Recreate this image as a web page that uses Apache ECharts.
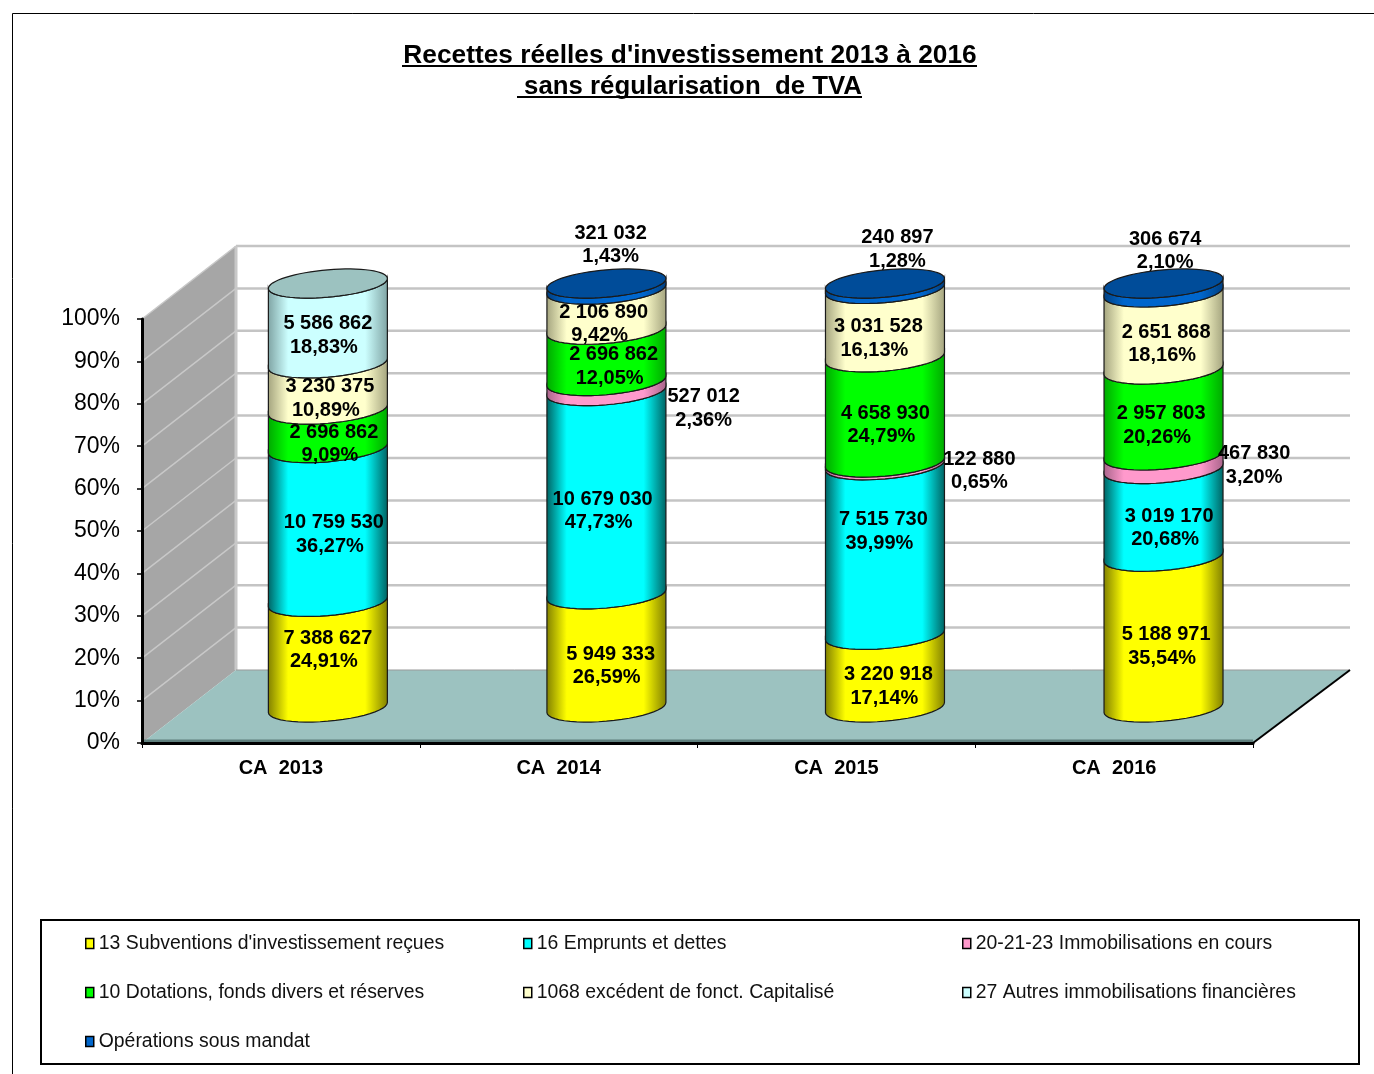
<!DOCTYPE html>
<html>
<head>
<meta charset="utf-8">
<title>Recettes réelles d'investissement</title>
<style>
  html, body { margin: 0; padding: 0; background: #fff; }
  #chart { width: 1374px; height: 1074px; }
</style>
<script src="https://cdn.jsdelivr.net/npm/echarts@6/dist/echarts.min.js"></script>
</head>
<body>
<div id="chart"></div>
<script>
const categories = ["CA  2013", "CA  2014", "CA  2015", "CA  2016"];
const yTicks = [0, 10, 20, 30, 40, 50, 60, 70, 80, 90, 100];

const seriesNames = [
  "13 Subventions d'investissement reçues",
  "16 Emprunts et dettes",
  "20-21-23 Immobilisations en cours",
  "10 Dotations, fonds divers et réserves",
  "1068 excédent de fonct. Capitalisé",
  "27 Autres immobilisations financières",
  "Opérations sous mandat"
];

const subventions = [7388627, 5949333, 3220918, 5188971];
const emprunts = [10759530, 10679030, 7515730, 3019170];
const immobilisations = [0, 527012, 122880, 467830];
const dotations = [2696862, 2696862, 4658930, 2957803];
const excedent = [3230375, 2106890, 3031528, 2651868];
const autres = [5586862, 0, 0, 0];
const mandat = [0, 321032, 240897, 306674];

const subventionsPct = ["24,91%", "26,59%", "17,14%", "35,54%"];
const empruntsPct = ["36,27%", "47,73%", "39,99%", "20,68%"];
const immobilisationsPct = ["", "2,36%", "0,65%", "3,20%"];
const dotationsPct = ["9,09%", "12,05%", "24,79%", "20,26%"];
const excedentPct = ["10,89%", "9,42%", "16,13%", "18,16%"];
const autresPct = ["18,83%", "", "", ""];
const mandatPct = ["", "1,43%", "1,28%", "2,10%"];

const allValues = [subventions, emprunts, immobilisations, dotations, excedent, autres, mandat];
const allPct = [subventionsPct, empruntsPct, immobilisationsPct, dotationsPct, excedentPct, autresPct, mandatPct];

// look of each stacked slice: bright, edge shade, cap
const PALETTE = [
  { main: "#ffff00", edge: "#807f00", cap: "#b3b300" },
  { main: "#00ffff", edge: "#006161", cap: "#00b3b3" },
  { main: "#ff99cc", edge: "#a8648a", cap: "#b36b8f" },
  { main: "#00ff00", edge: "#00a800", cap: "#00b300" },
  { main: "#ffffcc", edge: "#a3a37e", cap: "#b3b38f" },
  { main: "#ccffff", edge: "#7fa3a3", cap: "#9cc2c0" },
  { main: "#0066cc", edge: "#003f80", cap: "#004c99" }
];

// label shift from the slice centre, per series then per category
const LABEL_SHIFT = [
  [[0, -6], [5, 14], [5, 14], [5, 13]],
  [[6, 8], [-3, 17], [0, -20], [8, 14]],
  [null, [98, 21], [96, 6], [93, 2]],
  [[6, 14], [8, 10], [2, 14], [0, 12]],
  [[2, 11], [-2, 13], [-5, 14], [5, 12]],
  [[0, 11], null, null, null],
  [null, [5, -43], [14, -38], [4, -38]]
];

const LABEL_FONT = "bold 20px 'Liberation Sans', Arial, sans-serif";
const DEPTH_X = 94;
const DEPTH_Y = 73;
const BAR_DX = 47;
const BAR_DX_STEP = 0.8;
const BAR_DY = 35.5;
const RADIUS_X = 59.5;
const RADIUS_Y = 13.7;
const TILT = 5;

const totals = categories.map((_, i) => allValues.reduce((sum, list) => sum + list[i], 0));

function formatAmount(v) {
  return String(v).replace(/\B(?=(\d{3})+(?!\d))/g, " ");
}

function ringPoint(cx, cy, t) {
  const c = Math.cos(t);
  return [cx + RADIUS_X * c, cy + RADIUS_Y * Math.sin(t) - TILT * c];
}

function frontArc(cx, cy, reverse) {
  const pts = [];
  for (let k = 0; k <= 24; k++) {
    const t = Math.PI * k / 24;
    pts.push(ringPoint(cx, cy, t));
  }
  return reverse ? pts : pts.reverse();
}

function renderSlice(seriesIndex) {
  return (params, api) => {
    const i = api.value(0);
    const base = api.value(1);
    const top = api.value(2);
    if (top <= base) return null;
    const p0 = api.coord([i, base]);
    const p1 = api.coord([i, top]);
    const cx = p0[0] + BAR_DX + i * BAR_DX_STEP;
    const y0 = p0[1] - BAR_DY;
    const y1 = p1[1] - BAR_DY;
    const look = PALETTE[seriesIndex];
    const children = [{
      type: "polygon",
      shape: { points: frontArc(cx, y0, false).concat(frontArc(cx, y1, true)) },
      style: {
        fill: {
          type: "linear", x: 0, y: 0, x2: 1, y2: 0,
          colorStops: [
            { offset: 0, color: look.edge },
            { offset: 0.17, color: look.main },
            { offset: 0.81, color: look.main },
            { offset: 1, color: look.edge }
          ]
        },
        stroke: "#1a1a1a",
        lineWidth: 1.2
      }
    }];
    if (top >= 99.999) {
      const cap = [];
      for (let k = 0; k < 64; k++) cap.push(ringPoint(cx, y1, 2 * Math.PI * k / 64));
      children.push({
        type: "polygon",
        z2: 60,
        shape: { points: cap },
        style: { fill: look.cap, stroke: "#1a1a1a", lineWidth: 1.2 }
      });
    }
    const shift = LABEL_SHIFT[seriesIndex][i];
    if (shift) {
      const outside = seriesIndex === 2 || seriesIndex === 6;
      const lx = cx + shift[0] - i * BAR_DX_STEP;
      const ly = (y0 + y1) / 2 + shift[1] + 1;
      children.push({
        type: "text",
        z2: 50,
        style: {
          x: lx, y: ly - 11.5, text: formatAmount(allValues[seriesIndex][i]),
          font: LABEL_FONT, fill: "#000", align: "center", verticalAlign: "middle"
        }
      }, {
        type: "text",
        z2: 50,
        style: {
          x: outside ? lx : lx - 4, y: ly + 12, text: allPct[seriesIndex][i],
          font: LABEL_FONT, fill: "#000", align: "center", verticalAlign: "middle"
        }
      });
    }
    return { type: "group", children };
  };
}

function renderWalls(params, api) {
  const sys = params.coordSys;
  const left = sys.x;
  const right = sys.x + sys.width;
  const bottom = api.coord([0, 0])[1];
  const top = api.coord([0, 100])[1];
  const backLeft = left + DEPTH_X;
  const backRight = right + DEPTH_X + 3;
  const children = [
    {
      type: "polygon",
      shape: { points: [[left, bottom], [backLeft, bottom - DEPTH_Y], [backLeft, top - DEPTH_Y], [left, top]] },
      style: { fill: "#a6a6a6" }
    },
    {
      type: "polygon",
      shape: { points: [[left, bottom], [backLeft, bottom - DEPTH_Y], [backRight, bottom - DEPTH_Y], [right, bottom]] },
      style: { fill: "#9cc2c0" }
    }
  ];
  yTicks.forEach(tick => {
    if (tick === 0) return;
    const y = api.coord([0, tick])[1];
    children.push({
      type: "line",
      shape: { x1: left, y1: y, x2: backLeft, y2: y - DEPTH_Y },
      style: { stroke: "#c8c8c8", lineWidth: 1.5 }
    }, {
      type: "line",
      shape: { x1: backLeft, y1: y - DEPTH_Y, x2: backRight, y2: y - DEPTH_Y },
      style: { stroke: "#c4c4c4", lineWidth: 2.5 }
    });
  });
  children.push(
    {
      type: "line",
      shape: { x1: backLeft, y1: top - DEPTH_Y, x2: backLeft, y2: bottom - DEPTH_Y },
      style: { stroke: "#c8c8c8", lineWidth: 3 }
    },
    {
      type: "line",
      shape: { x1: backLeft, y1: bottom - DEPTH_Y, x2: backRight, y2: bottom - DEPTH_Y },
      style: { stroke: "#999999", lineWidth: 1 }
    },
    {
      type: "line",
      shape: { x1: left, y1: bottom - 2, x2: right, y2: bottom - 2 },
      style: { stroke: "#5f7f7d", lineWidth: 3 }
    },
    {
      type: "line",
      shape: { x1: right, y1: bottom, x2: backRight, y2: bottom - DEPTH_Y },
      style: { stroke: "#000", lineWidth: 2 }
    }
  );
  return { type: "group", children };
}

function sliceSeries(name, seriesIndex) {
  const data = categories.map((_, i) => {
    let base = 0;
    for (let s = 0; s < seriesIndex; s++) base += allValues[s][i] / totals[i] * 100;
    return [i, base, base + allValues[seriesIndex][i] / totals[i] * 100];
  });
  return {
    name,
    type: "custom",
    coordinateSystem: "cartesian2d",
    encode: { x: 0, y: 2 },
    itemStyle: { color: PALETTE[seriesIndex].main },
    renderItem: renderSlice(seriesIndex),
    data
  };
}

const legendSpots = [
  [85, 934], [523, 934], [962, 934],
  [85, 983], [523, 983], [962, 983],
  [85, 1032]
];

const option = {
  animation: false,
  backgroundColor: "#fff",
  title: [
    {
      text: "Recettes réelles d'investissement 2013 à 2016",
      left: 685, top: 38, textAlign: "center",
      textStyle: { fontFamily: "Liberation Sans", fontWeight: "bold", fontSize: 26.3, color: "#000" }
    },
    {
      text: "sans régularisation  de TVA",
      left: 688, top: 69, textAlign: "center",
      textStyle: { fontFamily: "Liberation Sans", fontWeight: "bold", fontSize: 25.8, color: "#000" }
    }
  ],
  grid: { left: 142, top: 319, width: 1111, height: 424 },
  xAxis: {
    type: "category",
    data: categories,
    z: 5,
    axisLine: { lineStyle: { color: "#000", width: 3 } },
    axisTick: { show: true, length: 5, lineStyle: { color: "#000", width: 1 } },
    axisLabel: {
      margin: 15, color: "#000",
      fontFamily: "Liberation Sans", fontWeight: "bold", fontSize: 20
    }
  },
  yAxis: {
    type: "value",
    min: 0,
    max: 100,
    interval: 10,
    z: 5,
    splitLine: { show: false },
    axisLine: { show: true, lineStyle: { color: "#000", width: 3 } },
    axisTick: { show: true, length: 5, lineStyle: { color: "#000", width: 1.5 } },
    axisLabel: {
      margin: 22, color: "#000", formatter: "{value}%",
      fontFamily: "Liberation Sans", fontSize: 23, padding: [0, 0, 3, 0]
    }
  },
  legend: seriesNames.map((name, i) => ({
    data: [name],
    left: legendSpots[i][0],
    top: legendSpots[i][1],
    padding: 0,
    itemWidth: 8,
    itemHeight: 10,
    itemGap: 0,
    icon: "rect",
    selectedMode: false,
    itemStyle: { borderColor: "#000", borderWidth: 1.5 },
    textStyle: {
      fontFamily: "Liberation Sans", fontSize: 19.4, color: "#111", padding: [0, 0, 0, 0]
    }
  })),
  graphic: [
    { type: "line", shape: { x1: 12.5, y1: 13.5, x2: 1374, y2: 13.5 }, style: { stroke: "#000", lineWidth: 1 } },
    { type: "line", shape: { x1: 12.5, y1: 13.5, x2: 12.5, y2: 1074 }, style: { stroke: "#000", lineWidth: 1 } },
    { type: "line", shape: { x1: 402, y1: 66, x2: 977, y2: 66 }, style: { stroke: "#000", lineWidth: 2 } },
    { type: "line", shape: { x1: 517, y1: 97, x2: 862, y2: 97 }, style: { stroke: "#000", lineWidth: 2 } },
    { type: "rect", shape: { x: 41, y: 920, width: 1318, height: 144 }, style: { fill: "none", stroke: "#000", lineWidth: 2 } }
  ],
  series: [
    {
      type: "custom",
      coordinateSystem: "cartesian2d",
      z: 1,
      silent: true,
      renderItem: renderWalls,
      encode: { x: 0, y: 1 },
      data: [[0, 0]]
    }
  ].concat(seriesNames.map(sliceSeries))
};

const chart = echarts.init(document.getElementById("chart"), null, { renderer: "canvas" });
chart.setOption(option);
</script>
</body>
</html>
